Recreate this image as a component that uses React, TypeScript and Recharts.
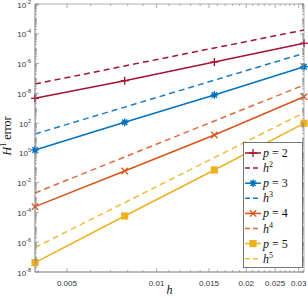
import React from 'react';
import { LineChart, Line, XAxis, YAxis, Legend, ReferenceArea } from 'recharts';

// ---- data ----
const hValues = [1 / 256, 1 / 128, 1 / 64, 1 / 32];
const errP2 = [4.64e-9, 7.06e-8, 1.27e-6, 2.3e-5];
const refH2 = [4.24e-8, 6.85e-7, 1.11e-5, 1.79e-4];
const errP3 = [1.57e-12, 1.14e-10, 7.74e-9, 6.15e-7];
const refH3 = [1.86e-11, 1.19e-9, 7.62e-8, 4.89e-6];
const errP4 = [2.44e-16, 6.08e-14, 1.59e-11, 5.94e-9];
const refH4 = [2.03e-15, 5.31e-13, 1.39e-10, 3.63e-8];
const errP5 = [4.23e-20, 5.78e-17, 7.11e-14, 9.72e-11];
const refH5 = [4.44e-19, 4.59e-16, 4.83e-13, 5.01e-10];

const xMajorTicks = [0.005, 0.01, 0.015, 0.02, 0.025, 0.03];
const xTickLabels = ['0.005', '0.01', '0.015', '0.02', '0.025', '0.03'];
const yMajorTicks = [1e-2, 1e-4, 1e-6, 1e-8, 1e-10, 1e-12, 1e-14, 1e-16, 1e-18, 1e-20];
const yTickExponents = ['-2', '-4', '-6', '-8', '2', '0', '-2', '-4', '-6', '-8'];
const legendLabels = [
  { sym: 'p', n: '2' },
  { sym: 'h', n: '2' },
  { sym: 'p', n: '3' },
  { sym: 'h', n: '3' },
  { sym: 'p', n: '4' },
  { sym: 'h', n: '4' },
  { sym: 'p', n: '5' },
  { sym: 'h', n: '5' },
];

// ---- tick positions (minor) ----
const xMinorTicks: number[] = [];
for (let k = 4; k <= 31; k++) {
  const v = k / 1000;
  if (!xMajorTicks.some((t) => Math.abs(t - v) < 1e-9)) xMinorTicks.push(v);
}
const yMinorTicks: number[] = [];
for (let e = -20; e < -2; e++) {
  for (let m = 1; m <= 9; m++) {
    if (m === 1 && e % 2 === 0) continue;
    yMinorTicks.push(m * Math.pow(10, e));
  }
}

const data = hValues.map((h, i) => ({
  h,
  p2: errP2[i],
  h2: refH2[i],
  p3: errP3[i],
  h3: refH3[i],
  p4: errP4[i],
  h4: refH4[i],
  p5: errP5[i],
  h5: refH5[i],
}));

// ---- styles ----
const FONT_SANS = "'Liberation Sans', Arial, sans-serif";
const FONT_SERIF = "'Liberation Serif', 'Times New Roman', serif";
const AXIS = '#8a8a8a';
const LABEL = '#333333';
const PLOT_TOP = 4;
const PLOT_RIGHT = 304;

const series = [
  { key: 'p2', color: '#A2142F', dashed: false, marker: 'plus' },
  { key: 'h2', color: '#A2142F', dashed: true, marker: null },
  { key: 'p3', color: '#0072BD', dashed: false, marker: 'star' },
  { key: 'h3', color: '#1a7cc4', dashed: true, marker: null },
  { key: 'p4', color: '#D95319', dashed: false, marker: 'cross' },
  { key: 'h4', color: '#E4693A', dashed: true, marker: null },
  { key: 'p5', color: '#EDB120', dashed: false, marker: 'square' },
  { key: 'h5', color: '#F0BC3C', dashed: true, marker: null },
];

function MarkerShape({ shape, cx, cy, color }: any) {
  if (shape === 'plus') {
    return (
      <g stroke={color} strokeWidth={1.3}>
        <line x1={cx - 4} x2={cx + 4} y1={cy} y2={cy} />
        <line x1={cx} x2={cx} y1={cy - 4} y2={cy + 4} />
      </g>
    );
  }
  if (shape === 'star') {
    const r = 3.8;
    const d = r * 0.707;
    return (
      <g stroke={color} strokeWidth={1.4}>
        <circle cx={cx} cy={cy} r={2.2} fill={color} stroke="none" />
        <line x1={cx - r} x2={cx + r} y1={cy} y2={cy} />
        <line x1={cx} x2={cx} y1={cy - r} y2={cy + r} />
        <line x1={cx - d} x2={cx + d} y1={cy - d} y2={cy + d} />
        <line x1={cx - d} x2={cx + d} y1={cy + d} y2={cy - d} />
      </g>
    );
  }
  if (shape === 'cross') {
    const r = 3.2;
    return (
      <g stroke={color} strokeWidth={1.3}>
        <line x1={cx - r} x2={cx + r} y1={cy - r} y2={cy + r} />
        <line x1={cx - r} x2={cx + r} y1={cy + r} y2={cy - r} />
      </g>
    );
  }
  if (shape === 'square') {
    return <rect x={cx - 3.6} y={cy - 3.6} width={7.2} height={7.2} fill={color} />;
  }
  return null;
}

const XTick = (props: any) => {
  const { x, y, payload } = props;
  const v = payload.value;
  const mi = xMajorTicks.findIndex((t) => Math.abs(t - v) < 1e-9);
  const len = mi >= 0 ? 4 : 2;
  return (
    <g>
      <line x1={x} x2={x} y1={y} y2={y - len} stroke={AXIS} strokeWidth={0.7} />
      <line x1={x} x2={x} y1={PLOT_TOP} y2={PLOT_TOP + len} stroke={AXIS} strokeWidth={0.7} />
      {mi >= 0 && (
        <text x={x} y={y + 14} textAnchor="middle" fontSize={8} fontFamily={FONT_SANS} fill={LABEL}>
          {xTickLabels[mi]}
        </text>
      )}
    </g>
  );
};

const YTick = (props: any) => {
  const { x, y, payload } = props;
  const v = payload.value;
  const lg = Math.log10(v);
  const r = Math.round(lg);
  const isMajor = Math.abs(lg - r) < 1e-6 && r % 2 === 0;
  const idx = isMajor ? (-2 - r) / 2 : -1;
  const len = isMajor ? 4 : 2;
  return (
    <g>
      <line x1={x} x2={x + len} y1={y} y2={y} stroke={AXIS} strokeWidth={0.7} />
      <line x1={PLOT_RIGHT} x2={PLOT_RIGHT - len} y1={y} y2={y} stroke={AXIS} strokeWidth={0.7} />
      {idx >= 0 && idx < yTickExponents.length && (
        <text x={x - 4} y={y + 3.5} textAnchor="end" fontSize={8} fontFamily={FONT_SANS} fill={LABEL}>
          10
          <tspan dy={-4} fontSize={5.5}>
            {yTickExponents[idx]}
          </tspan>
        </text>
      )}
    </g>
  );
};

const LegendContent = () => {
  const rowY = (i: number) => 11 + i * 15.1;
  return (
    <svg width={61} height={127} style={{ display: 'block' }}>
      <rect x={0.5} y={0.5} width={59} height={125} fill="#ffffff" stroke="#555555" strokeWidth={0.8} />
      {series.map((s, i) => {
        const y = rowY(i);
        const lab = legendLabels[i];
        return (
          <g key={s.key}>
            <line
              x1={2}
              x2={18}
              y1={y}
              y2={y}
              stroke={s.color}
              strokeWidth={1.5}
              strokeDasharray={s.dashed ? '5 3' : undefined}
            />
            {s.marker && <MarkerShape shape={s.marker} cx={10} cy={y} color={s.color} />}
            {lab.sym === 'p' ? (
              <text x={20} y={y + 4} fontSize={12} fontFamily={FONT_SERIF} fill="#111">
                <tspan fontStyle="italic">p</tspan>
                <tspan dx={3}>=</tspan>
                <tspan dx={3}>{lab.n}</tspan>
              </text>
            ) : (
              <text x={20} y={y + 4} fontSize={12} fontFamily={FONT_SERIF} fill="#111">
                <tspan fontStyle="italic">h</tspan>
                <tspan dy={-5} fontSize={8}>
                  {lab.n}
                </tspan>
              </text>
            )}
          </g>
        );
      })}
    </svg>
  );
};

export default function App() {
  return (
    <div style={{ position: 'absolute', left: 0, top: 0, width: 308, height: 298, background: '#fff' }}>
      <LineChart width={308} height={298} data={data} margin={{ top: 4, right: 4, left: 0, bottom: 0 }}>
        <XAxis
          dataKey="h"
          type="number"
          scale="log"
          domain={[1 / 256, 1 / 32]}
          ticks={[...xMajorTicks, ...xMinorTicks]}
          interval={0}
          tickSize={0}
          tickMargin={0}
          tick={<XTick />}
          axisLine={{ stroke: AXIS, strokeWidth: 0.7 }}
          tickLine={false}
          height={26}
          label={(p: any) => {
            const vb = p.viewBox || { x: 35, width: 269, y: 272 };
            return (
              <text
                x={vb.x + vb.width / 2}
                y={294}
                textAnchor="middle"
                fontSize={12}
                fontStyle="italic"
                fontFamily={FONT_SERIF}
                fill="#111"
              >
                h
              </text>
            );
          }}
        />
        <YAxis
          type="number"
          scale="log"
          domain={[1e-20, 1e-2]}
          ticks={[...yMajorTicks, ...yMinorTicks]}
          interval={0}
          tickSize={0}
          tickMargin={0}
          tick={<YTick />}
          axisLine={{ stroke: AXIS, strokeWidth: 0.7 }}
          tickLine={false}
          width={35}
          label={(p: any) => (
            <text
              x={11}
              y={136}
              transform="rotate(-90 11 136)"
              textAnchor="middle"
              fontSize={12}
              fontFamily={FONT_SERIF}
              fill="#111"
            >
              <tspan fontStyle="italic">H</tspan>
              <tspan dy={-5} fontSize={8}>1</tspan>
              <tspan dy={5}> error</tspan>
            </text>
          )}
        />
        <ReferenceArea
          x1={1 / 256}
          x2={1 / 32}
          y1={1e-20}
          y2={1e-2}
          fill="none"
          stroke={AXIS}
          strokeWidth={0.7}
          ifOverflow="visible"
        />
        {series.map((s) => (
          <Line
            key={s.key}
            dataKey={s.key}
            type="linear"
            stroke={s.color}
            strokeWidth={1.5}
            strokeDasharray={s.dashed ? '6 4' : undefined}
            isAnimationActive={false}
            activeDot={false}
            dot={
              s.marker
                ? (p: any) => (
                    <MarkerShape key={`${s.key}-${p.index}`} shape={s.marker} cx={p.cx} cy={p.cy} color={s.color} />
                  )
                : false
            }
          />
        ))}
        <Legend
          layout="vertical"
          align="center"
          verticalAlign="middle"
          content={<LegendContent />}
          wrapperStyle={{ left: 243, top: 142, width: 61, height: 127 }}
        />
      </LineChart>
    </div>
  );
}
